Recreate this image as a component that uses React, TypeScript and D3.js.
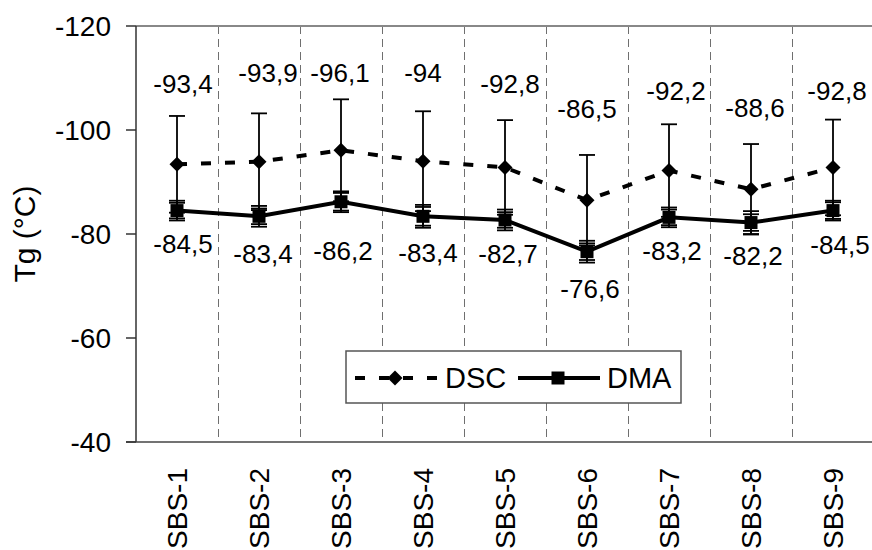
import React from 'react';
import * as d3 from 'd3';

const categories = ['SBS-1', 'SBS-2', 'SBS-3', 'SBS-4', 'SBS-5', 'SBS-6', 'SBS-7', 'SBS-8', 'SBS-9'];
const dscValues = [-93.4, -93.9, -96.1, -94, -92.8, -86.5, -92.2, -88.6, -92.8];
const dscErrors = [9.3, 9.3, 9.8, 9.6, 9.1, 8.7, 8.9, 8.7, 9.2];
const dmaValues = [-84.5, -83.4, -86.2, -83.4, -82.7, -76.6, -83.2, -82.2, -84.5];
const dmaErrorsInner = [1.5, 1.5, 1.7, 1.8, 1.5, 1.6, 1.5, 1.6, 1.6];
const dmaErrorsOuter = [1.9, 2.0, 2.0, 2.2, 2.0, 2.1, 1.9, 2.2, 1.9];
const yTicks = [-120, -100, -80, -60, -40];
const seriesNames = ['DSC', 'DMA'];
const yTitle = 'Tg (°C)';

// manual label placement offsets (px) relative to each point
const dscLabelOffsets = [[6, -71], [9, -80], [-1, -68], [0, -79], [5, -74], [0, -82], [7, -71], [4, -72], [4, -67]];
const dmaLabelOffsets = [[6, 42], [4, 47], [2, 58], [5, 46], [3, 43], [3, 46], [3, 43], [2, 42], [7, 43]];

const FONT = '"Liberation Sans", Arial, sans-serif';
const fmt = (v: number) => String(v).replace('.', ',');

export default function App() {
  const W = 872, H = 550;
  const left = 136, right = 874, top = 26, bottom = 442;
  const x = d3.scaleBand<string>().domain(categories).range([left, right]).padding(0);
  const y = d3.scaleLinear().domain([-120, -40]).range([top, bottom]);
  const cx = (c: string) => (x(c) as number) + x.bandwidth() / 2;

  const line = d3.line<[number, number]>().x(d => d[0]).y(d => d[1]);
  const dscPts: [number, number][] = categories.map((c, i) => [cx(c), y(dscValues[i])]);
  const dmaPts: [number, number][] = categories.map((c, i) => [cx(c), y(dmaValues[i])]);

  const boundaries = categories.slice(1).map(c => x(c) as number).concat([right]);
  const cap = 8;

  const dR = 7.5;
  const diamond = `M0,${-dR}L${dR},0L0,${dR}L${-dR},0Z`;
  const sq = 6.5;
  const square = `M${-sq},${-sq}H${sq}V${sq}H${-sq}Z`;

  // legend layout
  const lg = { x: 346, y: 351, w: 335, h: 52 };
  const lgMid = lg.y + 27;

  return (
    <svg width={W} height={H} style={{ position: 'absolute', left: 0, top: 0, background: '#fff' }} fontFamily={FONT}>
      <rect x={0} y={0} width={W} height={H} fill="#fff" />
      {/* gridlines */}
      {boundaries.map((bx, i) => (
        <line key={i} x1={bx + 0.5} x2={bx + 0.5} y1={top} y2={bottom} stroke="#6f6f6f" strokeWidth={1} strokeDasharray="8,5" shapeRendering="crispEdges" />
      ))}
      {/* plot border top */}
      <line x1={left} x2={W} y1={top} y2={top} stroke="#888" strokeWidth={2} />
      {/* axes */}
      <line x1={left} x2={left} y1={top} y2={bottom} stroke="#333" strokeWidth={1.5} />
      <line x1={left - 10} x2={W} y1={bottom} y2={bottom} stroke="#444" strokeWidth={1.5} />
      {yTicks.map(t => (
        <g key={t}>
          <line x1={left - 10} x2={left} y1={y(t)} y2={y(t)} stroke="#333" strokeWidth={1.5} />
          <text x={111} y={y(t)} dy="0.36em" textAnchor="end" fontSize={28} fill="#000">{t}</text>
        </g>
      ))}
      {/* y title */}
      <text transform={`translate(35,${(top + bottom) / 2}) rotate(-90)`} textAnchor="middle" fontSize={30} fill="#000">{yTitle}</text>
      {/* x labels */}
      {categories.map(c => (
        <text key={c} transform={`translate(${cx(c)},468) rotate(-90)`} dy="0.36em" textAnchor="end" fontSize={28} fill="#000">{c}</text>
      ))}

      {/* DSC error bars */}
      {categories.map((c, i) => {
        const px = cx(c);
        const y1 = y(dscValues[i] - dscErrors[i]);
        const y2 = y(dscValues[i] + dscErrors[i]);
        return (
          <g key={'de' + i} stroke="#000" strokeWidth={1.8}>
            <line x1={px} x2={px} y1={y1} y2={y2} />
            <line x1={px - cap} x2={px + cap} y1={y1} y2={y1} />
            <line x1={px - cap} x2={px + cap} y1={y2} y2={y2} />
          </g>
        );
      })}
      {/* DMA error bars */}
      {categories.map((c, i) => {
        const px = cx(c);
        return (
          <g key={'me' + i} stroke="#000" strokeWidth={1.8}>
            {[dmaErrorsInner[i], dmaErrorsOuter[i]].map((e, k) => {
              const y1 = y(dmaValues[i] - e);
              const y2 = y(dmaValues[i] + e);
              return (
                <g key={k}>
                  <line x1={px} x2={px} y1={y1} y2={y2} />
                  <line x1={px - cap} x2={px + cap} y1={y1} y2={y1} />
                  <line x1={px - cap} x2={px + cap} y1={y2} y2={y2} />
                </g>
              );
            })}
          </g>
        );
      })}

      {/* lines */}
      <path d={line(dscPts) || ''} fill="none" stroke="#000" strokeWidth={4} strokeDasharray="10,14" />
      <path d={line(dmaPts) || ''} fill="none" stroke="#000" strokeWidth={4} />
      {dscPts.map((p, i) => (
        <path key={'dm' + i} d={diamond} transform={`translate(${p[0]},${p[1]})`} fill="#000" />
      ))}
      {dmaPts.map((p, i) => (
        <path key={'sm' + i} d={square} transform={`translate(${p[0]},${p[1]})`} fill="#000" />
      ))}

      {/* data labels */}
      {dscPts.map((p, i) => (
        <text key={'dl' + i} x={p[0] + dscLabelOffsets[i][0]} y={p[1] + dscLabelOffsets[i][1]} textAnchor="middle" fontSize={26} fill="#000">{fmt(dscValues[i])}</text>
      ))}
      {dmaPts.map((p, i) => (
        <text key={'ml' + i} x={p[0] + dmaLabelOffsets[i][0]} y={p[1] + dmaLabelOffsets[i][1]} textAnchor="middle" fontSize={26} fill="#000">{fmt(dmaValues[i])}</text>
      ))}

      {/* legend */}
      <rect x={lg.x} y={lg.y} width={lg.w} height={lg.h} fill="#fff" stroke="#555" strokeWidth={1.5} />
      <line x1={355} x2={437} y1={lgMid} y2={lgMid} stroke="#000" strokeWidth={4} strokeDasharray="10,14" />
      <path d={diamond} transform={`translate(395,${lgMid})`} fill="#000" />
      <text x={445} y={lgMid} dy="0.36em" fontSize={29} fill="#000">{seriesNames[0]}</text>
      <line x1={518} x2={600} y1={lgMid} y2={lgMid} stroke="#000" strokeWidth={4} />
      <path d={square} transform={`translate(558,${lgMid})`} fill="#000" />
      <text x={607} y={lgMid} dy="0.36em" fontSize={29} fill="#000">{seriesNames[1]}</text>
    </svg>
  );
}
